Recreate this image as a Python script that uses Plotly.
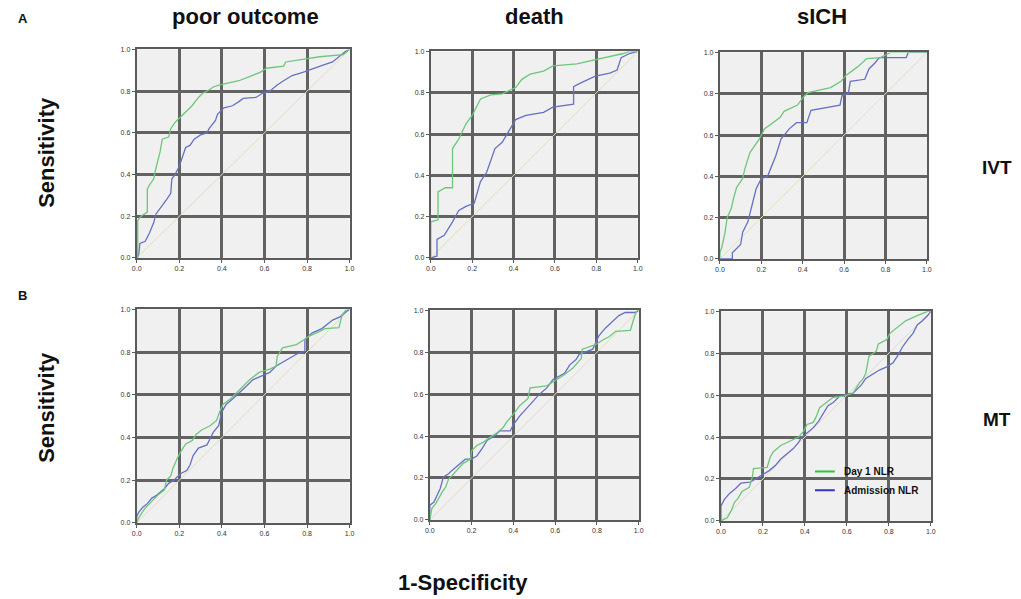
import plotly.graph_objects as go

# ROC curves: (1-specificity, sensitivity)
a1_day1_x = [0, 0.005, 0.005, 0.02, 0.05, 0.05, 0.06, 0.08, 0.09, 0.11, 0.12, 0.15, 0.16, 0.18, 0.2, 0.23, 0.26, 0.29, 0.31, 0.33, 0.36, 0.39, 0.44, 0.48, 0.53, 0.58, 0.61, 0.69, 0.70, 0.80, 0.86, 0.97, 0.99, 1.0]
a1_day1_y = [0, 0.0, 0.18, 0.2, 0.22, 0.33, 0.35, 0.38, 0.43, 0.51, 0.57, 0.58, 0.62, 0.65, 0.67, 0.70, 0.73, 0.77, 0.79, 0.80, 0.82, 0.83, 0.84, 0.85, 0.87, 0.89, 0.91, 0.92, 0.94, 0.955, 0.965, 0.975, 0.995, 1.0]
a1_adm_x = [0, 0.01, 0.015, 0.04, 0.06, 0.08, 0.09, 0.12, 0.14, 0.16, 0.165, 0.18, 0.2, 0.23, 0.25, 0.27, 0.30, 0.33, 0.34, 0.37, 0.38, 0.41, 0.45, 0.48, 0.50, 0.56, 0.59, 0.625, 0.66, 0.69, 0.73, 0.78, 0.83, 0.875, 0.92, 0.95, 0.98, 1.0]
a1_adm_y = [0, 0.02, 0.07, 0.08, 0.12, 0.17, 0.21, 0.25, 0.28, 0.31, 0.38, 0.40, 0.44, 0.53, 0.54, 0.57, 0.59, 0.60, 0.62, 0.66, 0.69, 0.72, 0.73, 0.75, 0.765, 0.77, 0.79, 0.80, 0.83, 0.85, 0.875, 0.89, 0.91, 0.925, 0.94, 0.965, 0.99, 1.0]

a2_day1_x = [0, 0, 0.035, 0.035, 0.07, 0.105, 0.105, 0.135, 0.17, 0.2, 0.24, 0.29, 0.345, 0.41, 0.44, 0.48, 0.545, 0.59, 0.705, 0.795, 0.865, 0.93, 0.96, 1.0]
a2_day1_y = [0, 0.175, 0.185, 0.32, 0.34, 0.34, 0.53, 0.575, 0.65, 0.69, 0.77, 0.79, 0.795, 0.825, 0.865, 0.89, 0.905, 0.93, 0.94, 0.96, 0.975, 0.99, 1.0, 1.0]
a2_adm_x = [0, 0.03, 0.03, 0.065, 0.105, 0.135, 0.17, 0.21, 0.24, 0.27, 0.31, 0.345, 0.41, 0.46, 0.545, 0.59, 0.69, 0.69, 0.72, 0.795, 0.865, 0.90, 0.92, 0.96, 1.0]
a2_adm_y = [0, 0.01, 0.09, 0.11, 0.175, 0.23, 0.25, 0.265, 0.37, 0.415, 0.53, 0.56, 0.67, 0.69, 0.705, 0.73, 0.745, 0.83, 0.845, 0.88, 0.895, 0.91, 0.97, 0.99, 1.0]

a3_day1_x = [0, 0, 0.01, 0.025, 0.035, 0.055, 0.065, 0.08, 0.11, 0.12, 0.145, 0.17, 0.19, 0.215, 0.255, 0.29, 0.31, 0.375, 0.40, 0.425, 0.535, 0.585, 0.61, 0.665, 0.71, 0.775, 0.825, 1.0]
a3_day1_y = [0, 0.03, 0.06, 0.13, 0.2, 0.245, 0.29, 0.345, 0.39, 0.435, 0.515, 0.55, 0.58, 0.63, 0.66, 0.685, 0.715, 0.745, 0.78, 0.805, 0.83, 0.86, 0.89, 0.93, 0.97, 0.975, 1.0, 1.0]
a3_adm_x = [0, 0.06, 0.06, 0.1, 0.11, 0.135, 0.155, 0.175, 0.2, 0.23, 0.27, 0.295, 0.335, 0.37, 0.42, 0.44, 0.58, 0.59, 0.62, 0.63, 0.70, 0.72, 0.75, 0.77, 0.90, 0.91, 1.0]
a3_adm_y = [0, 0, 0.03, 0.07, 0.13, 0.18, 0.26, 0.34, 0.39, 0.40, 0.50, 0.58, 0.63, 0.66, 0.66, 0.72, 0.745, 0.79, 0.80, 0.86, 0.87, 0.92, 0.95, 0.975, 0.975, 1.0, 1.0]

b1_day1_x = [0, 0.01, 0.03, 0.04, 0.06, 0.08, 0.10, 0.13, 0.14, 0.16, 0.17, 0.19, 0.205, 0.23, 0.26, 0.28, 0.305, 0.345, 0.375, 0.39, 0.405, 0.44, 0.47, 0.5, 0.53, 0.575, 0.625, 0.655, 0.66, 0.685, 0.75, 0.79, 0.81, 0.855, 0.885, 0.95, 0.965, 0.985, 1.0]
b1_day1_y = [0, 0.025, 0.055, 0.07, 0.09, 0.11, 0.13, 0.155, 0.20, 0.22, 0.255, 0.30, 0.33, 0.37, 0.385, 0.415, 0.435, 0.455, 0.48, 0.52, 0.555, 0.58, 0.61, 0.64, 0.67, 0.705, 0.72, 0.735, 0.78, 0.82, 0.835, 0.86, 0.875, 0.895, 0.91, 0.915, 0.975, 1.0, 1.0]
b1_adm_x = [0, 0, 0.01, 0.03, 0.05, 0.07, 0.095, 0.13, 0.15, 0.175, 0.205, 0.235, 0.25, 0.265, 0.29, 0.33, 0.36, 0.385, 0.40, 0.42, 0.45, 0.485, 0.515, 0.545, 0.59, 0.625, 0.655, 0.70, 0.75, 0.79, 0.79, 0.825, 0.87, 0.92, 0.955, 0.985, 1.0]
b1_adm_y = [0, 0.03, 0.05, 0.075, 0.09, 0.115, 0.13, 0.16, 0.185, 0.20, 0.23, 0.245, 0.27, 0.315, 0.35, 0.365, 0.425, 0.455, 0.52, 0.555, 0.58, 0.61, 0.64, 0.67, 0.69, 0.705, 0.735, 0.76, 0.79, 0.805, 0.86, 0.89, 0.91, 0.95, 0.965, 0.99, 1.0]

b2_day1_x = [0, 0.01, 0.03, 0.045, 0.06, 0.075, 0.09, 0.105, 0.13, 0.16, 0.195, 0.2, 0.225, 0.255, 0.29, 0.32, 0.35, 0.37, 0.40, 0.43, 0.47, 0.48, 0.56, 0.59, 0.64, 0.685, 0.725, 0.73, 0.79, 0.83, 0.86, 0.89, 0.96, 0.975, 0.99, 1.0]
b2_day1_y = [0, 0.055, 0.08, 0.11, 0.135, 0.155, 0.195, 0.21, 0.235, 0.27, 0.29, 0.33, 0.355, 0.37, 0.395, 0.415, 0.44, 0.47, 0.505, 0.545, 0.58, 0.63, 0.64, 0.66, 0.69, 0.725, 0.77, 0.815, 0.835, 0.86, 0.875, 0.9, 0.905, 0.955, 1.0, 1.0]
b2_adm_x = [0, 0, 0.02, 0.035, 0.05, 0.065, 0.09, 0.105, 0.145, 0.17, 0.2, 0.225, 0.25, 0.275, 0.31, 0.335, 0.385, 0.40, 0.43, 0.465, 0.495, 0.525, 0.56, 0.59, 0.645, 0.67, 0.70, 0.715, 0.78, 0.81, 0.84, 0.875, 0.905, 0.935, 0.985, 1.0]
b2_adm_y = [0, 0.07, 0.085, 0.12, 0.15, 0.205, 0.22, 0.235, 0.27, 0.29, 0.29, 0.305, 0.34, 0.38, 0.40, 0.425, 0.425, 0.455, 0.495, 0.535, 0.565, 0.6, 0.63, 0.67, 0.70, 0.74, 0.765, 0.79, 0.815, 0.88, 0.915, 0.945, 0.975, 0.99, 0.99, 1.0]

b3_day1_x = [0, 0.03, 0.05, 0.065, 0.08, 0.10, 0.135, 0.15, 0.155, 0.22, 0.235, 0.25, 0.285, 0.315, 0.34, 0.37, 0.395, 0.41, 0.44, 0.455, 0.47, 0.505, 0.535, 0.585, 0.63, 0.645, 0.66, 0.675, 0.69, 0.705, 0.74, 0.75, 0.79, 0.805, 0.845, 0.88, 0.935, 0.985, 1.0]
b3_day1_y = [0, 0.015, 0.05, 0.09, 0.105, 0.14, 0.16, 0.21, 0.25, 0.255, 0.305, 0.33, 0.36, 0.375, 0.385, 0.40, 0.43, 0.46, 0.47, 0.50, 0.54, 0.565, 0.59, 0.595, 0.61, 0.635, 0.66, 0.675, 0.705, 0.785, 0.81, 0.845, 0.865, 0.895, 0.925, 0.955, 0.98, 1.0, 1.0]
b3_adm_x = [0, 0, 0.015, 0.04, 0.07, 0.095, 0.14, 0.165, 0.195, 0.23, 0.26, 0.285, 0.315, 0.345, 0.37, 0.385, 0.41, 0.44, 0.465, 0.49, 0.51, 0.535, 0.565, 0.6, 0.63, 0.655, 0.67, 0.69, 0.72, 0.755, 0.79, 0.82, 0.84, 0.865, 0.89, 0.915, 0.935, 0.96, 0.985, 1.0]
b3_adm_y = [0, 0.07, 0.10, 0.13, 0.155, 0.18, 0.185, 0.20, 0.215, 0.24, 0.265, 0.295, 0.32, 0.345, 0.375, 0.40, 0.42, 0.445, 0.475, 0.515, 0.55, 0.565, 0.595, 0.605, 0.61, 0.635, 0.65, 0.68, 0.70, 0.72, 0.735, 0.755, 0.785, 0.83, 0.865, 0.895, 0.935, 0.955, 0.98, 1.0]

panel_titles = ["poor outcome", "death", "sICH"]
row_labels = ["IVT", "MT"]
series_names = ["Day 1 NLR", "Admission NLR"]
tick_vals = [0, 0.2, 0.4, 0.6, 0.8, 1.0]

curves = [
    (a1_day1_x, a1_day1_y, a1_adm_x, a1_adm_y),
    (a2_day1_x, a2_day1_y, a2_adm_x, a2_adm_y),
    (a3_day1_x, a3_day1_y, a3_adm_x, a3_adm_y),
    (b1_day1_x, b1_day1_y, b1_adm_x, b1_adm_y),
    (b2_day1_x, b2_day1_y, b2_adm_x, b2_adm_y),
    (b3_day1_x, b3_day1_y, b3_adm_x, b3_adm_y),
]

W, H = 1021, 599
# plot boxes in pixels: left, right, top, bottom
boxes = [
    (133, 348, 46, 257), (430, 639, 48, 257), (722, 931, 49, 258),
    (133, 348, 309, 525), (429, 640, 310, 522), (723, 935, 311, 523),
]

GREEN = "#6cc77a"
BLUE = "#6670c4"
DIAG = "#e2dcc0"

fig = go.Figure()
layout = {}
for i, ((gx, gy, bx, by), (l, r, t, b)) in enumerate(zip(curves, boxes)):
    n = "" if i == 0 else str(i + 1)
    xa, ya = "x" + n, "y" + n
    fig.add_trace(go.Scatter(x=[0, 1], y=[0, 1], xaxis=xa, yaxis=ya, mode="lines",
                             line=dict(color=DIAG, width=1), hoverinfo="skip"))
    fig.add_trace(go.Scatter(x=bx, y=by, xaxis=xa, yaxis=ya, mode="lines",
                             line=dict(color=BLUE, width=1.3), name=series_names[1]))
    fig.add_trace(go.Scatter(x=gx, y=gy, xaxis=xa, yaxis=ya, mode="lines",
                             line=dict(color=GREEN, width=1.3), name=series_names[0]))
    common = dict(range=[0, 1], tickvals=tick_vals, tickformat=".1f", showgrid=True,
                  gridcolor="#626262", gridwidth=2.5, zeroline=False,
                  showline=True, linecolor="#5a5a5a", linewidth=2, mirror=True,
                  ticks="outside", ticklen=3, tickcolor="#5a5a5a", tickwidth=1,
                  tickfont=dict(family="Arial", size=7, color="#333333"))
    layout["xaxis" + n] = dict(domain=[l / W, r / W], anchor=ya, **common)
    layout["yaxis" + n] = dict(domain=[1 - b / H, 1 - t / H], anchor=xa, **common)


def px(x, y):
    return dict(x=x / W, y=1 - y / H, xref="paper", yref="paper",
                xanchor="center", yanchor="middle", showarrow=False)


annotations = []
bold = dict(family="Arial", color="#111111")
for txt, x in zip(panel_titles, [243, 535, 825]):
    annotations.append(dict(text="<b>" + txt + "</b>", font=dict(size=22, **bold), **px(x, 13)))
for txt, y in zip(row_labels, [165, 420]):
    annotations.append(dict(text="<b>" + txt + "</b>", font=dict(size=19, **bold), **px(1002, y)))
for y in [150, 408]:
    annotations.append(dict(text="<b>Sensitivity</b>", textangle=-90, font=dict(size=22, **bold), **px(42, y)))
annotations.append(dict(text="<b>1-Specificity</b>", font=dict(size=22, **bold), **px(463, 585)))
for txt, y in [("A", 15), ("B", 295)]:
    annotations.append(dict(text="<b>" + txt + "</b>", font=dict(size=13, **bold), **px(18, y)))

# legend inside panel B3: short line + label
shapes = []
for name, color, y in [(series_names[0], "#33c333", 473), (series_names[1], "#3333cc", 492)]:
    shapes.append(dict(type="line", xref="paper", yref="paper", x0=818 / W, x1=838 / W,
                       y0=1 - y / H, y1=1 - y / H, line=dict(color=color, width=2)))
    a = px(845, y)
    a["xanchor"] = "left"
    annotations.append(dict(text="<b>" + name + "</b>", font=dict(size=10, **bold), **a))

fig.update_layout(
    width=W, height=H,
    margin=dict(l=0, r=0, t=0, b=0),
    paper_bgcolor="white",
    plot_bgcolor="#f0f0f0",
    showlegend=False,
    annotations=annotations,
    shapes=shapes,
    **layout,
)

fig.write_html("out.html", config={"displayModeBar": False},
               post_script="document.body.style.margin='0';")
